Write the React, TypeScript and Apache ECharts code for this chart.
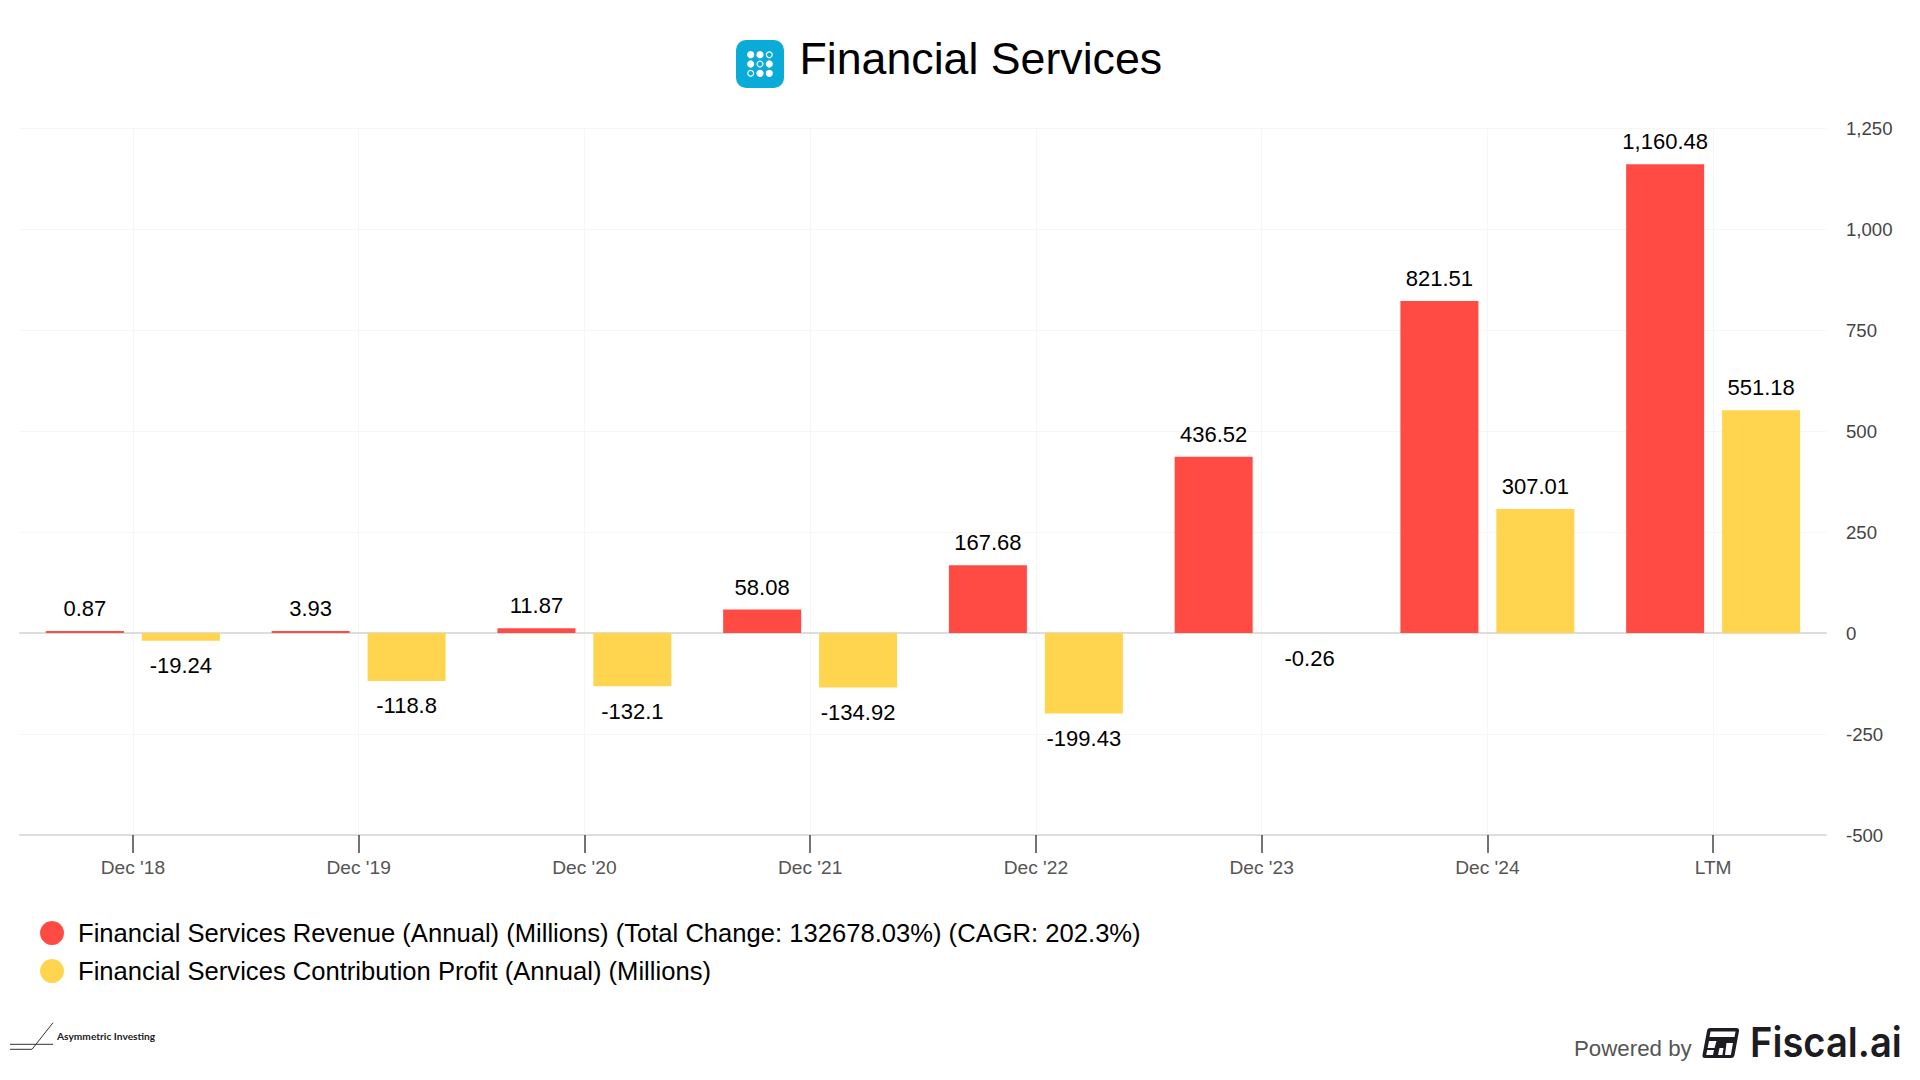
import React, { useEffect, useRef } from "react";
import * as echarts from "echarts";

const categories = ["Dec '18", "Dec '19", "Dec '20", "Dec '21", "Dec '22", "Dec '23", "Dec '24", "LTM"];
const revenue = [0.87, 3.93, 11.87, 58.08, 167.68, 436.52, 821.51, 1160.48];
const profit = [-19.24, -118.8, -132.1, -134.92, -199.43, -0.26, 307.01, 551.18];
const revenueName = "Financial Services Revenue (Annual) (Millions) (Total Change: 132678.03%) (CAGR: 202.3%)";
const profitName = "Financial Services Contribution Profit (Annual) (Millions)";
const FONT = '"Liberation Sans", Arial, sans-serif';

const toData = (values: number[]) =>
  values.map((v) => ({ value: v, label: { distance: v < 0 ? 14 : 11.5 } }));

const dotFills = [1, 1, 0, 1, 0, 1, 0, 1, 1];

function iconDots() {
  return dotFills.map((f, i) => ({
    type: "circle",
    shape: { cx: 750.7 + (i % 3) * 9.3, cy: 54.7 + Math.floor(i / 3) * 9.3, r: f ? 3.6 : 2.9 },
    style: f ? { fill: "#fff" } : { fill: "transparent", stroke: "#fff", lineWidth: 1.2 },
    silent: true,
  }));
}

const fiscalMarkD = "M8 0 L34 0 Q37.5 0 37 3 L32.5 27 Q32 30 29 30 L3 30 Q0 30 0.5 27 L5 3 Q5.5 0 8 0 Z";
const cutouts = [
  [[8.5, 3.5], [33.5, 3.5], [32.5, 9], [7.5, 9]],
  [[7, 13], [14.5, 13], [12.5, 20], [5.6, 20]],
  [[5.2, 22], [12, 22], [11, 27], [4.2, 27]],
  [[17.5, 20], [21.5, 20], [20.4, 27], [16, 27]],
  [[24.5, 15], [31, 15], [28.8, 27], [23, 27]],
];

export default function App() {
  const ref = useRef<HTMLDivElement>(null);
  useEffect(() => {
    if (!ref.current) return;
    echarts.graphic.registerShape("fiscalMark", echarts.graphic.extendPath(fiscalMarkD, {}) as any);
    const chart = echarts.init(ref.current, undefined, { renderer: "svg" });
    const labelCommon = {
      show: true,
      position: "outside",
      fontFamily: FONT,
      fontSize: 22,
      color: "#000",
      formatter: (p: any) => Number(p.value).toLocaleString("en-US"),
    };
    chart.setOption({
      animation: false,
      backgroundColor: "#fff",
      textStyle: { fontFamily: FONT },
      grid: { left: 20, top: 128, width: 1806, height: 707, containLabel: false },
      legend: {
        left: 40,
        top: 920,
        orient: "vertical",
        icon: "circle",
        itemWidth: 24,
        itemHeight: 24,
        itemGap: 12,
        padding: 0,
        textStyle: { fontFamily: FONT, fontSize: 25.6, color: "#000", padding: [0, 0, 0, 9] },
        data: [revenueName, profitName],
      },
      xAxis: [
        {
          type: "category",
          data: categories,
          position: "bottom",
          axisLine: { show: true, onZero: false, lineStyle: { color: "#dddddd", width: 2 } },
          axisTick: { show: true, alignWithLabel: true, length: 18, lineStyle: { color: "#444", width: 1.5 } },
          axisLabel: { color: "#555", fontFamily: FONT, fontSize: 19.2, margin: 23 },
          splitLine: { show: true, alignWithLabel: true, lineStyle: { color: "#f6f6f6", width: 1 } },
        },
        {
          type: "category",
          data: categories,
          axisLine: { show: true, onZero: true, lineStyle: { color: "#dddddd", width: 2 } },
          axisTick: { show: false },
          axisLabel: { show: false },
          splitLine: { show: false },
        },
      ],
      yAxis: {
        type: "value",
        position: "right",
        min: -500,
        max: 1250,
        interval: 250,
        axisLine: { show: false },
        axisTick: { show: false },
        axisLabel: {
          color: "#444",
          fontFamily: FONT,
          fontSize: 18.6,
          margin: 20,
          formatter: (v: number) => v.toLocaleString("en-US"),
        },
        splitLine: { show: true, lineStyle: { color: "#f6f6f6", width: 1 } },
      },
      series: [
        {
          name: revenueName,
          type: "bar",
          data: toData(revenue),
          barWidth: 78,
          barGap: "23%",
          barMinHeight: 2,
          itemStyle: { color: "#ff4b44" },
          label: labelCommon,
        },
        {
          name: profitName,
          type: "bar",
          data: toData(profit),
          barWidth: 78,
          itemStyle: { color: "#ffd54f" },
          label: labelCommon,
        },
      ],
      graphic: [
        { type: "rect", shape: { x: 736, y: 40, width: 48, height: 48, r: 10 }, style: { fill: "#0babd7" }, silent: true },
        ...iconDots(),
        { type: "text", x: 799.5, y: 58.5, style: { text: "Financial Services", fontFamily: FONT, fontSize: 44.7, fill: "#000", verticalAlign: "middle" }, silent: true },
        { type: "line", shape: { x1: 10, y1: 1044.3, x2: 53, y2: 1044.3 }, style: { stroke: "#333", lineWidth: 1 }, silent: true },
        { type: "polyline", shape: { points: [[10, 1049.3], [32, 1049.3], [53, 1022.7]] }, style: { stroke: "#333", lineWidth: 1, fill: "none" }, silent: true },
        { type: "text", x: 57, y: 1036, style: { text: "Asymmetric Investing", fontFamily: "Lato, sans-serif", fontWeight: 700, fontSize: 10.2, fill: "#222", verticalAlign: "middle" }, silent: true },
        { type: "text", x: 1574, y: 1048, style: { text: "Powered by", fontFamily: FONT, fontSize: 22.3, fill: "#555", verticalAlign: "middle" }, silent: true },
        { type: "fiscalMark", x: 1702, y: 1028, style: { fill: "#1c1c22" }, silent: true },
        ...cutouts.map((pts) => ({
          type: "polygon",
          x: 1702,
          y: 1028,
          shape: { points: pts },
          style: { fill: "#fff" },
          silent: true,
        })),
        { type: "text", x: 1750, y: 1043, scaleX: 0.93, style: { text: "Fiscal.ai", fontFamily: "Inter, sans-serif", fontWeight: 600, fontSize: 41, fill: "#1c1c22", verticalAlign: "middle" }, silent: true },
      ],
    });
    return () => chart.dispose();
  }, []);
  return <div ref={ref} style={{ width: 1920, height: 1080, position: "absolute", left: 0, top: 0 }} />;
}
